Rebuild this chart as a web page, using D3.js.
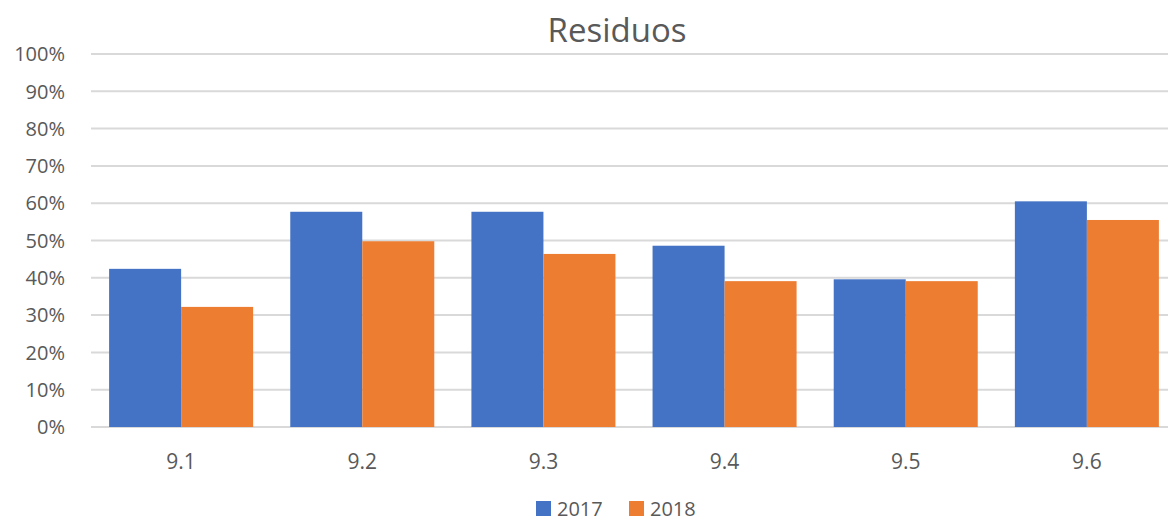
<!DOCTYPE html>
<html>
<head>
<meta charset="utf-8">
<script src="https://cdn.jsdelivr.net/npm/d3@7"></script>
<style>
  body { margin: 0; background: #fff; }
  text { font-family: "Open Sans", sans-serif; fill: #595959; }
</style>
</head>
<body>
<svg id="chart" width="1168" height="521"></svg>
<script>
const categories = ["9.1", "9.2", "9.3", "9.4", "9.5", "9.6"];
const series = ["2017", "2018"];
const values2017 = [0.424, 0.577, 0.577, 0.486, 0.396, 0.605];
const values2018 = [0.322, 0.498, 0.464, 0.391, 0.391, 0.555];
const yTicks = [0, 0.1, 0.2, 0.3, 0.4, 0.5, 0.6, 0.7, 0.8, 0.9, 1];
const colors = ["#4472c4", "#ed7d31"];

const svg = d3.select("#chart");
const W = 1168;

const x = d3.scaleBand().domain(categories).range([91, 1177]).paddingInner(0.205).paddingOuter(0.1);
const xs = d3.scaleBand().domain(series).range([0, x.bandwidth()]);
const y = d3.scaleLinear().domain([0, 1]).range([427, 54]);

// gridlines
svg.append("g")
  .selectAll("line")
  .data(yTicks)
  .enter()
  .append("line")
  .attr("x1", 91)
  .attr("x2", W)
  .attr("y1", d => y(d))
  .attr("y2", d => y(d))
  .attr("stroke", "#d9d9d9")
  .attr("stroke-width", 2);

// y labels
svg.append("g")
  .selectAll("text")
  .data(yTicks)
  .enter()
  .append("text")
  .attr("x", 65)
  .attr("y", d => y(d))
  .attr("dy", "0.36em")
  .attr("text-anchor", "end")
  .style("font-size", "20px")
  .text(d => d3.format(".0%")(d));

// bars
const rows = categories.map((c, i) => ({cat: c, vals: [values2017[i], values2018[i]]}));
const groups = svg.append("g")
  .selectAll("g")
  .data(rows)
  .enter()
  .append("g")
  .attr("transform", d => `translate(${x(d.cat)},0)`);

groups.selectAll("rect")
  .data(d => d.vals.map((v, j) => ({key: series[j], v: v, j: j})))
  .enter()
  .append("rect")
  .attr("x", d => xs(d.key))
  .attr("width", xs.bandwidth())
  .attr("y", d => y(d.v))
  .attr("height", d => y(0) - y(d.v))
  .attr("fill", d => colors[d.j]);

// x labels
svg.append("g")
  .selectAll("text")
  .data(categories)
  .enter()
  .append("text")
  .attr("x", d => x(d) + x.bandwidth() / 2)
  .attr("y", 469)
  .attr("text-anchor", "middle")
  .style("font-size", "21px")
  .text(d => d);

// title
svg.append("text")
  .attr("x", 617)
  .attr("y", 42)
  .attr("text-anchor", "middle")
  .style("font-size", "33px")
  .text("Residuos");

// legend
const legendX = [536, 629];
const legend = svg.append("g")
  .selectAll("g")
  .data(series)
  .enter()
  .append("g")
  .attr("transform", (d, i) => `translate(${legendX[i]},501)`);
legend.append("rect")
  .attr("width", 15)
  .attr("height", 15)
  .attr("fill", (d, i) => colors[i]);
legend.append("text")
  .attr("x", 21)
  .attr("y", 8)
  .attr("dy", "0.34em")
  .style("font-size", "20px")
  .text(d => d);
</script>
</body>
</html>
